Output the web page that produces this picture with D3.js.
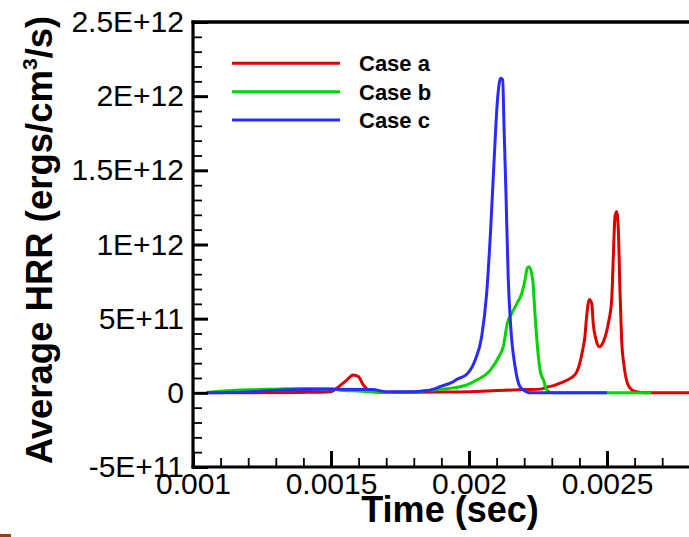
<!DOCTYPE html>
<html>
<head>
<meta charset="utf-8">
<script src="https://cdn.jsdelivr.net/npm/d3@7"></script>
<style>
  html, body { margin: 0; padding: 0; background: #fff; }
  svg { display: block; }
  text { font-family: "Liberation Sans", Arial, Helvetica, sans-serif; fill: #000; }
</style>
</head>
<body>
<svg id="chart" width="689" height="537"></svg>
<script>
// Heat release rate histories (values in units of 1E+11 ergs/cm^3/s)
const UNIT = 1e11;

const timeA = [0.00105, 0.0012, 0.0014, 0.0015, 0.00152, 0.001557, 0.00158, 0.0016, 0.001617, 0.001635,
  0.00166, 0.0017, 0.0019, 0.002, 0.0021, 0.0022, 0.00226, 0.00228, 0.00231, 0.00233, 0.00236, 0.00238,
  0.00239, 0.0024, 0.002412, 0.00242, 0.002426, 0.002436, 0.002445, 0.00245, 0.00246, 0.002472, 0.002487,
  0.002505, 0.002517, 0.002523, 0.002529, 0.002535, 0.002541, 0.002547, 0.002553, 0.002562, 0.002574,
  0.00259, 0.002608, 0.00263, 0.0029];
const hrrA = [0, 0, 0.03, 0.08, 0.3, 0.86, 1.2, 1.08, 0.53, 0.19,
  0.05, 0.03, 0.05, 0.08, 0.15, 0.22, 0.25, 0.38, 0.5, 0.65, 0.9, 1.15,
  1.4, 1.9, 2.9, 3.8, 5.1, 6.3, 6.0, 4.7, 3.6, 3.1, 3.45,
  4.7, 6.3, 9.2, 11.9, 12.2, 11.0, 6.9, 3.6, 1.8, 0.64,
  0.19, 0.07, 0, 0];

const timeB = [0.00105, 0.0011, 0.0012, 0.0013, 0.0014, 0.0015, 0.00155, 0.0016, 0.00165, 0.0017, 0.0018,
  0.00185, 0.0019, 0.00192, 0.00195, 0.001992, 0.002028, 0.002076, 0.00211, 0.002124, 0.002139, 0.002155,
  0.002173, 0.002191, 0.002203, 0.002211, 0.002218, 0.002231, 0.002239, 0.002248, 0.00226, 0.00227,
  0.002279, 0.0023, 0.00266];
const hrrB = [0.02, 0.1, 0.2, 0.25, 0.3, 0.28, 0.15, 0.12, 0.05, 0.03, 0.05,
  0.15, 0.25, 0.28, 0.35, 0.53, 0.86, 1.5, 2.5, 3.1, 4.7, 5.36,
  6.0, 6.7, 7.6, 8.4, 8.5, 7.6, 5.36, 3.1, 1.31, 0.86,
  0.3, 0, 0];

const timeC = [0.00105, 0.0012, 0.0013, 0.0015, 0.00165, 0.0017, 0.0018, 0.00185, 0.0019, 0.001943,
  0.001955, 0.001992, 0.002022, 0.002046, 0.002064, 0.002079, 0.002091, 0.002103, 0.002115, 0.002122,
  0.002127, 0.002134, 0.002142, 0.002151, 0.002167, 0.002185, 0.002209, 0.002225, 0.0025];
const hrrC = [0, 0.05, 0.18, 0.25, 0.22, 0.08, 0.08, 0.15, 0.45, 0.75,
  0.9, 1.25, 2.2, 3.8, 6.7, 11.2, 15.7, 19.7, 21.2, 21.1,
  17.9, 13.4, 7.8, 4.5, 1.76, 0.41, 0.07, 0, 0];

const seriesNames = ["Case a", "Case b", "Case c"];
const seriesColors = ["#dc0000", "#00d400", "#2a2aff"];

const xMajorTicks = [0.001, 0.0015, 0.002, 0.0025];
const xMajorLabels = ["0.001", "0.0015", "0.002", "0.0025"];
const yMajorTicks = [-5e11, 0, 5e11, 1e12, 1.5e12, 2e12, 2.5e12];
const yMajorLabels = ["-5E+11", "0", "5E+11", "1E+12", "1.5E+12", "2E+12", "2.5E+12"];

const xTitle = "Time (sec)";

// ---- layout ----
const svg = d3.select("#chart");
const plotLeft = 193, plotTop = 22, plotBottom = 467;
const x = d3.scaleLinear().domain([0.001, 0.0029]).range([plotLeft, plotLeft + 1.9 * 276]);
const y = d3.scaleLinear().domain([-5e11, 2.5e12]).range([plotBottom, plotTop]);
const plotRight = x.range()[1];

svg.append("defs").append("clipPath").attr("id", "plotClip")
  .append("rect").attr("x", plotLeft).attr("y", plotTop)
  .attr("width", plotRight - plotLeft).attr("height", plotBottom - plotTop);

// ---- curves (drawn a, b, c so c sits on top) ----
const series = [
  { t: timeA, v: hrrA },
  { t: timeB, v: hrrB },
  { t: timeC, v: hrrC }
];
const line = d3.line()
  .x(d => x(d[0]))
  .y(d => y(d[1] * UNIT))
  .curve(d3.curveMonotoneX);

const plot = svg.append("g").attr("clip-path", "url(#plotClip)");
series.forEach((s, i) => {
  plot.append("path")
    .datum(s.t.map((t, j) => [t, s.v[j]]))
    .attr("fill", "none")
    .attr("stroke", seriesColors[i])
    .attr("stroke-width", 3)
    .attr("stroke-linejoin", "round")
    .attr("d", line);
});

// ---- axes with inward ticks ----
const xMinor = d3.range(0.0011, 0.00291, 0.0001).filter(v => !xMajorTicks.some(m => Math.abs(m - v) < 1e-9));
const yMinor = d3.range(-4e11, 2.5e12, 1e11).filter(v => !yMajorTicks.some(m => Math.abs(m - v) < 1));

const xAxisMinor = svg.append("g").attr("transform", `translate(0,${plotBottom})`)
  .call(d3.axisBottom(x).tickValues(xMinor).tickSize(-9).tickSizeOuter(0).tickFormat(""));
const xAxisMajor = svg.append("g").attr("transform", `translate(0,${plotBottom})`)
  .call(d3.axisBottom(x).tickValues(xMajorTicks).tickSize(-16).tickSizeOuter(0).tickPadding(6)
    .tickFormat((d, i) => xMajorLabels[i]));

const yAxisMinor = svg.append("g").attr("transform", `translate(${plotLeft},0)`)
  .call(d3.axisLeft(y).tickValues(yMinor).tickSize(-9).tickSizeOuter(0).tickFormat(""));
const yAxisMajor = svg.append("g").attr("transform", `translate(${plotLeft},0)`)
  .call(d3.axisLeft(y).tickValues(yMajorTicks).tickSize(-15).tickSizeOuter(0).tickPadding(9)
    .tickFormat((d, i) => yMajorLabels[i]));

[xAxisMinor, xAxisMajor, yAxisMinor, yAxisMajor].forEach(g => g.select(".domain").remove());
[xAxisMinor, yAxisMinor].forEach(g => g.selectAll(".tick line").attr("stroke", "#000").attr("stroke-width", 1.8));
[xAxisMajor, yAxisMajor].forEach(g => g.selectAll(".tick line").attr("stroke", "#000").attr("stroke-width", 3));

[xAxisMajor, yAxisMajor].forEach(g => g.selectAll(".tick text")
  .style("font-family", "'Liberation Sans', Arial, sans-serif")
  .attr("font-size", 30).attr("fill", "#000"));

// frame lines
svg.append("line").attr("x1", plotLeft).attr("x2", plotLeft).attr("y1", plotTop - 1.5).attr("y2", plotBottom + 1.5)
  .attr("stroke", "#000").attr("stroke-width", 3.2);
svg.append("line").attr("x1", plotLeft - 1.5).attr("x2", plotRight).attr("y1", plotBottom).attr("y2", plotBottom)
  .attr("stroke", "#000").attr("stroke-width", 3.2);
svg.append("line").attr("x1", plotLeft - 1.5).attr("x2", plotRight).attr("y1", plotTop).attr("y2", plotTop)
  .attr("stroke", "#000").attr("stroke-width", 3.6);

// ---- axis titles ----
svg.append("text")
  .attr("x", 450).attr("y", 522)
  .attr("text-anchor", "middle")
  .attr("font-size", 36).attr("font-weight", "bold")
  .text(xTitle);

const yt = svg.append("text")
  .attr("transform", "translate(52,240) rotate(-90)")
  .attr("text-anchor", "middle")
  .attr("font-size", 36.5).attr("font-weight", "bold");
yt.append("tspan").text("Average HRR (ergs/cm");
yt.append("tspan").attr("font-size", 21).attr("dy", -15).text("3");
yt.append("tspan").attr("dy", 15).text("/s)");

// ---- legend ----
const legY = [63.3, 91.7, 120];
seriesNames.forEach((name, i) => {
  svg.append("line")
    .attr("x1", 232).attr("x2", 340).attr("y1", legY[i]).attr("y2", legY[i])
    .attr("stroke", seriesColors[i]).attr("stroke-width", 3);
  svg.append("text")
    .attr("x", 359).attr("y", legY[i]).attr("dy", "0.36em")
    .attr("font-size", 22).attr("font-weight", "bold")
    .text(name);
});

// small strip at lower-left corner
svg.append("rect").attr("x", 0).attr("y", 534).attr("width", 11).attr("height", 3).attr("fill", "#9a3d12");
</script>
</body>
</html>
